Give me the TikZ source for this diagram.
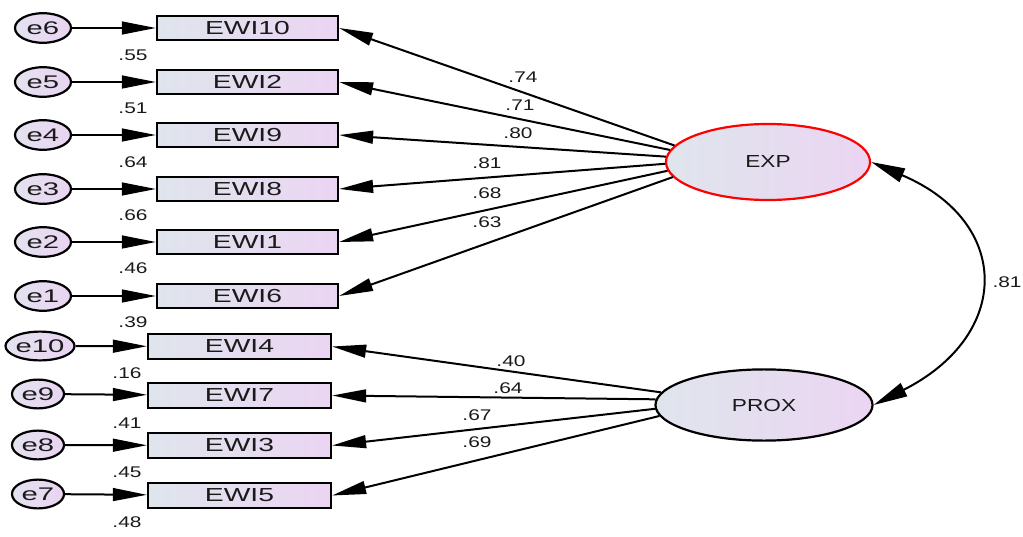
\documentclass[tikz,border=0pt]{standalone}
\usepackage{fontspec}
\setmainfont{Liberation Sans}
\usepackage{graphicx}
\usetikzlibrary{arrows.meta,shapes.geometric}

\definecolor{boxleft}{HTML}{DFE5EC}
\definecolor{boxright}{HTML}{EBD5F3}
\definecolor{errleft}{HTML}{E4E2F0}
\definecolor{errright}{HTML}{E9D4F1}
\definecolor{txtgray}{HTML}{1A1A1A}

% stretched text, as in the exported figure
\newcommand{\wtext}[2]{\scalebox{#1}[1]{#2}}

\tikzset{
	indicator/.style={draw=black, line width=0.055cm, left color=boxleft, right color=boxright,
		minimum width=4.525cm, minimum height=0.6cm, inner sep=0pt, text=txtgray,
		font=\fontsize{13.4}{15}\selectfont},
	errvar/.style={ellipse, draw=black, line width=0.055cm, left color=errleft, right color=errright,
		minimum width=1.4cm, minimum height=0.74cm, inner sep=0pt, text=txtgray,
		font=\fontsize{13}{14}\selectfont},
	latent/.style={ellipse, draw=black, line width=0.055cm, left color=boxleft, right color=boxright,
		minimum width=5.1cm, minimum height=1.9cm, inner sep=0pt, text=txtgray,
		font=\fontsize{12.4}{14}\selectfont},
	weight/.style={text=txtgray, inner sep=0pt, font=\fontsize{11}{12}\selectfont},
	regpath/.style={line width=0.05cm, -{Triangle[length=0.85cm,width=0.32cm]}},
	covpath/.style={line width=0.05cm, {Triangle[length=0.85cm,width=0.36cm]}-{Triangle[length=0.85cm,width=0.36cm]}}
}

\begin{document}
\begin{tikzpicture}[x=0.025cm,y=-0.025cm]
	\useasboundingbox (0,0) rectangle (1023,537);

	% latent factors
	\node[latent,draw=red] (EXP) at (768,162) {\wtext{1.3}{EXP}};
	\node[latent,minimum width=5.425cm,minimum height=1.78cm] (PROX) at (764,405) {\wtext{1.3}{PROX}};

	% EXP indicators
	\node[indicator] (EWI10) at (247.5,28) {\wtext{1.5}{EWI10}};
	\node[indicator] (EWI2) at (247.5,82) {\wtext{1.5}{EWI2}};
	\node[indicator] (EWI9) at (247.5,135) {\wtext{1.5}{EWI9}};
	\node[indicator] (EWI8) at (247.5,189) {\wtext{1.5}{EWI8}};
	\node[indicator] (EWI1) at (247.5,242) {\wtext{1.5}{EWI1}};
	\node[indicator] (EWI6) at (247.5,296) {\wtext{1.5}{EWI6}};

	% PROX indicators
	\node[indicator,minimum width=4.575cm,minimum height=0.625cm] (EWI4) at (239.5,346.5) {\wtext{1.5}{EWI4}};
	\node[indicator,minimum width=4.575cm,minimum height=0.625cm] (EWI7) at (239.5,395.5) {\wtext{1.5}{EWI7}};
	\node[indicator,minimum width=4.575cm,minimum height=0.625cm] (EWI3) at (239.5,445.5) {\wtext{1.5}{EWI3}};
	\node[indicator,minimum width=4.575cm,minimum height=0.625cm] (EWI5) at (239.5,495.5) {\wtext{1.5}{EWI5}};

	% error terms
	\node[errvar] (e6) at (43,28) {\wtext{1.6}{e6}};
	\node[errvar] (e5) at (43,82) {\wtext{1.6}{e5}};
	\node[errvar] (e4) at (43,135) {\wtext{1.6}{e4}};
	\node[errvar] (e3) at (43,189) {\wtext{1.6}{e3}};
	\node[errvar] (e2) at (43,242) {\wtext{1.6}{e2}};
	\node[errvar] (e1) at (43,296) {\wtext{1.6}{e1}};
	\node[errvar,minimum width=1.35cm,minimum height=0.72cm] (e10) at (40,346) {\wtext{1.6}{e10}};
	\node[errvar,minimum width=1.3cm,minimum height=0.72cm] (e9) at (38,394) {\wtext{1.6}{e9}};
	\node[errvar,minimum width=1.3cm,minimum height=0.72cm] (e8) at (38,445) {\wtext{1.6}{e8}};
	\node[errvar,minimum width=1.3cm,minimum height=0.72cm] (e7) at (38,494) {\wtext{1.6}{e7}};

	% error paths
	\draw[regpath] (e6) -- (EWI10);
	\draw[regpath] (e5) -- (EWI2);
	\draw[regpath] (e4) -- (EWI9);
	\draw[regpath] (e3) -- (EWI8);
	\draw[regpath] (e2) -- (EWI1);
	\draw[regpath] (e1) -- (EWI6);
	\draw[regpath] (e10) -- (EWI4);
	\draw[regpath] (e9) -- (EWI7);
	\draw[regpath] (e8) -- (EWI3);
	\draw[regpath] (e7) -- (EWI5);

	% squared multiple correlations
	\node[weight] (r10) at (133,55) {\wtext{1.35}{.55}};
	\node[weight] (r2) at (133,108) {\wtext{1.35}{.51}};
	\node[weight] (r9) at (133,162) {\wtext{1.35}{.64}};
	\node[weight] (r8) at (133,215) {\wtext{1.35}{.66}};
	\node[weight] (r1) at (133,268) {\wtext{1.35}{.46}};
	\node[weight] (r6) at (133,322) {\wtext{1.35}{.39}};
	\node[weight] (r4) at (127,373) {\wtext{1.35}{.16}};
	\node[weight] (r7) at (127,423) {\wtext{1.35}{.41}};
	\node[weight] (r3) at (127,472) {\wtext{1.35}{.45}};
	\node[weight] (r5) at (127,522) {\wtext{1.35}{.48}};

	% EXP loadings
	\draw[regpath] (EXP.170) -- (EWI10.east);
	\draw[regpath] (EXP.173) -- (EWI2.east);
	\draw[regpath] (EXP.177) -- (EWI9.east);
	\draw[regpath] (EXP.181) -- (EWI8.east);
	\draw[regpath] (EXP.185) -- (EWI1.east);
	\draw[regpath] (EXP.189) -- (EWI6.east);
	\node[weight] (w10) at (523,77) {\wtext{1.35}{.74}};
	\node[weight] (w2) at (520,105) {\wtext{1.35}{.71}};
	\node[weight] (w9) at (518,133) {\wtext{1.35}{.80}};
	\node[weight] (w8) at (487,163) {\wtext{1.35}{.81}};
	\node[weight] (w1) at (487,193) {\wtext{1.35}{.68}};
	\node[weight] (w6) at (487,222) {\wtext{1.35}{.63}};

	% PROX loadings
	\draw[regpath] (PROX.173) -- (EWI4.east);
	\draw[regpath] (PROX.177) -- (EWI7.east);
	\draw[regpath] (PROX.182) -- (EWI3.east);
	\draw[regpath] (PROX.186) -- (EWI5.east);
	\node[weight] (w4) at (511,361) {\wtext{1.35}{.40}};
	\node[weight] (w7) at (508,388) {\wtext{1.35}{.64}};
	\node[weight] (w3) at (477,415) {\wtext{1.35}{.67}};
	\node[weight] (w5) at (477,442) {\wtext{1.35}{.69}};

	% factor covariance
	\draw[covpath] (EXP.east) .. controls (1012,222) and (1012,335) .. (PROX.east);
	\node[weight] (cov) at (1007,282) {\wtext{1.35}{.81}};
\end{tikzpicture}
\end{document}
